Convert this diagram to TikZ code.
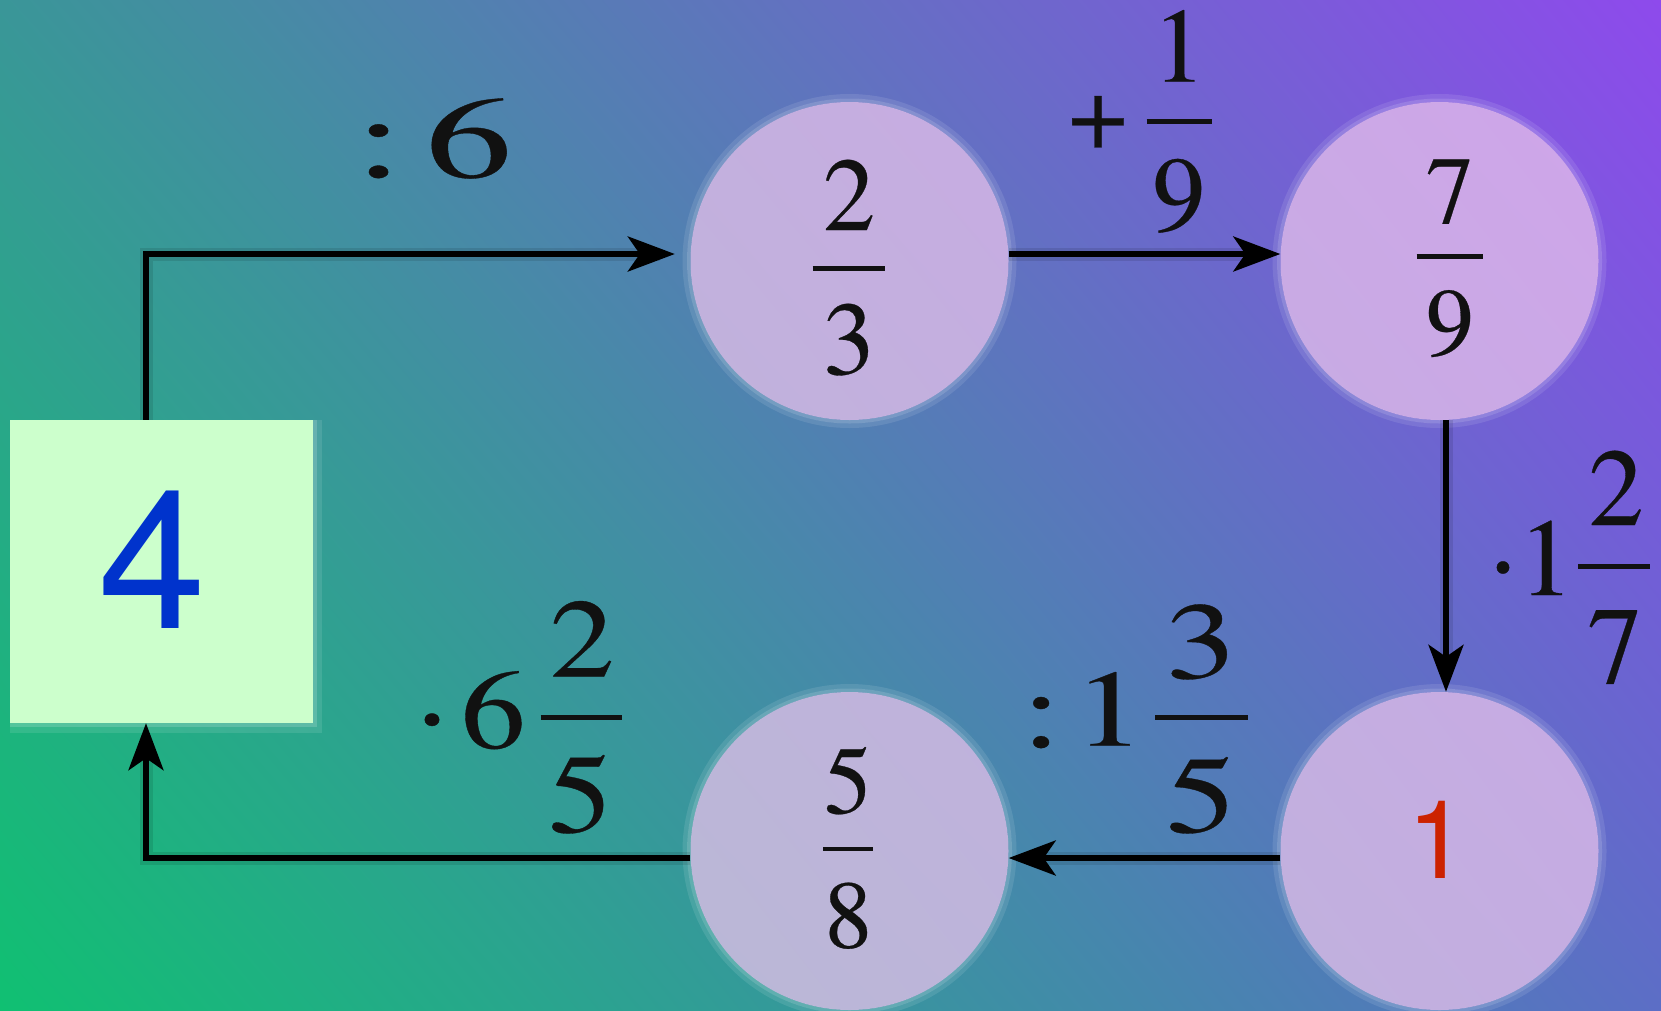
\documentclass[tikz,border=0pt]{standalone}
\usepackage{fontspec}
\usepackage{graphicx}
\setmainfont{texgyretermes-regular.otf}
\newfontfamily\serf[FakeBold=0.3]{texgyretermes-regular.otf}
\newfontfamily\sansf{texgyreheros-regular.otf}
\usetikzlibrary{arrows.meta,shadings}
\definecolor{bgTL}{RGB}{58,150,152}
\definecolor{bgBL}{RGB}{16,192,114}
\definecolor{bgTR}{RGB}{142,74,236}
\definecolor{bgBR}{RGB}{92,110,198}
\definecolor{lav}{RGB}{232,194,236}
\definecolor{sqfill}{RGB}{204,255,204}
\definecolor{fourblue}{RGB}{0,51,204}
\definecolor{onered}{RGB}{204,34,0}
\definecolor{ink}{RGB}{17,17,17}
\newcommand{\setfs}[1]{\serf\fontsize{#1}{#1}\selectfont}
\newcommand{\xs}[2]{\scalebox{#1}[1]{#2}}
\begin{document}
\begin{tikzpicture}[x=1pt,y=-1pt,
  bubble/.style={circle, minimum size=318pt, inner sep=0pt, fill=lav, fill opacity=0.75, draw=none},
  glyph/.style={anchor=base, inner sep=0pt, outer sep=0pt, text=ink},
  arr/.style={line width=5.5pt, draw=black, -{Stealth[length=47pt,width=35pt,inset=12pt]}},
  arrshadow/.style={line width=13pt, draw=black, opacity=0.10},
  fbar/.style={line width=4.5pt, draw=ink},
  glowA/.style={fill=white, opacity=0.22, even odd rule},
  glowB/.style={fill=white, opacity=0.10, even odd rule}
]
\useasboundingbox (0,0) rectangle (1661,1010);
\shade[upper left=bgTL, upper right=bgTR, lower left=bgBL, lower right=bgBR] (0,0) rectangle (1661,1010);

% positions
\coordinate (p23) at (849.5,261);
\coordinate (p79) at (1439.5,261);
\coordinate (p58) at (849.5,851);
\coordinate (p1)  at (1439.5,851);
\coordinate (psq) at (161.5,571.5);
\coordinate (k1) at (146,254);
\coordinate (k2) at (1446,0);
\coordinate (k3) at (0,858);

% soft glows
\foreach \p in {p23,p79,p58,p1}{
  \fill[glowA] (\p) circle (162.5) circle (159);
  \fill[glowB] (\p) circle (167) circle (162.5);
}
\fill[white, opacity=0.10] (10,420) rectangle (322,733);
\fill[white, opacity=0.16] (10,420) rectangle (317,727);

% shapes
\node[bubble] (c23) at (p23) {};
\node[bubble] (c79) at (p79) {};
\node[bubble] (c58) at (p58) {};
\node[bubble] (c1)  at (p1)  {};
\node[rectangle, minimum width=303pt, minimum height=303pt, inner sep=0pt, fill=sqfill] (sq) at (psq) {};

% connector shadows
\draw[arrshadow] (sq.north -| k1) |- ([xshift=-30pt]c23.west |- k1);
\draw[arrshadow] (c23.east |- k1) -- ([xshift=-30pt]c79.west |- k1);
\draw[arrshadow] (c79.south -| k2) -- ([yshift=30pt]c1.north -| k2);
\draw[arrshadow] (c1.west |- k3) -- ([xshift=30pt]c58.east |- k3);
\draw[arrshadow] (c58.west |- k3) -| ([yshift=-30pt]sq.south -| k1);

% connectors
\draw[arr, shorten >=15.5pt] (sq.north -| k1) |- (c23.west |- k1);
\draw[arr] (c23.east |- k1) -- (c79.west |- k1);
\draw[arr] (c79.south -| k2) -- (c1.north -| k2);
\draw[arr] (c1.west |- k3) -- (c58.east |- k3);
\draw[arr] (c58.west |- k3) -| (sq.south -| k1);

% node contents
\node[glyph, font=\sansf\fontsize{194}{194}\selectfont, text=fourblue] (four) at (152,628) {4};
\node[glyph, font=\sansf\fontsize{109}{109}\selectfont, text=onered] (one) at (1437.5,878.3) {1};

\node[glyph, font=\setfs{104}] (t23n) at (849,230) {2};
\draw[fbar] (812.7,268.3) -- (885,268.3);
\node[glyph, font=\setfs{104}] (t23d) at (849,374) {3};

\node[glyph, font=\setfs{96}] (t79n) at (1450,223) {7};
\draw[fbar] (1416.7,256.7) -- (1483.3,256.7);
\node[glyph, font=\setfs{96}] (t79d) at (1450,355) {9};

\node[glyph, font=\setfs{96}] (t58n) at (848,813) {5};
\draw[fbar] (823.3,849) -- (873.3,849);
\node[glyph, font=\setfs{96}] (t58d) at (848.3,947.5) {8};

% edge labels
\node[glyph, font=\setfs{115}] (l1c) at (379,177) {\xs{1.5}{:}};
\node[glyph, font=\setfs{115}] (l1n) at (469,177) {\xs{1.5}{6}};

\node[glyph, font=\setfs{106}] (l2p) at (1098,148.3) {+};
\node[glyph, font=\setfs{106}] (l2n) at (1179,81.7) {1};
\draw[fbar] (1146.7,121.7) -- (1211.7,121.7);
\node[glyph, font=\setfs{106}] (l2d) at (1179,230.5) {9};

\node[glyph, font=\setfs{110}] (l3o) at (1503,595) {·};
\node[glyph, font=\setfs{110}] (l3w) at (1546,595) {1};
\draw[fbar] (1578,566.7) -- (1650,566.7);
\node[glyph, font=\setfs{110}] (l3n) at (1616,525) {2};
\node[glyph, font=\setfs{110}] (l3d) at (1615,683) {7};

\node[glyph, font=\setfs{112}] (l5o) at (432,747.7) {\xs{1.15}{·}};
\node[glyph, font=\setfs{112}] (l5w) at (493.3,747.7) {\xs{1.15}{6}};
\draw[fbar] (540.7,717.7) -- (621.7,717.7);
\node[glyph, font=\setfs{112}] (l5n) at (582,676.7) {\xs{1.15}{2}};
\node[glyph, font=\setfs{112}] (l5d) at (580.3,832) {\xs{1.15}{5}};

\node[glyph, font=\setfs{109}] (l4c) at (1041.5,747) {\xs{1.3}{:}};
\node[glyph, font=\setfs{109}] (l4w) at (1109.3,745.7) {\xs{1.3}{1}};
\draw[fbar] (1155,717.7) -- (1248.3,717.7);
\node[glyph, font=\setfs{109}] (l4n) at (1201,678) {\xs{1.3}{3}};
\node[glyph, font=\setfs{109}] (l4d) at (1201.2,832) {\xs{1.3}{5}};
\end{tikzpicture}
\end{document}
